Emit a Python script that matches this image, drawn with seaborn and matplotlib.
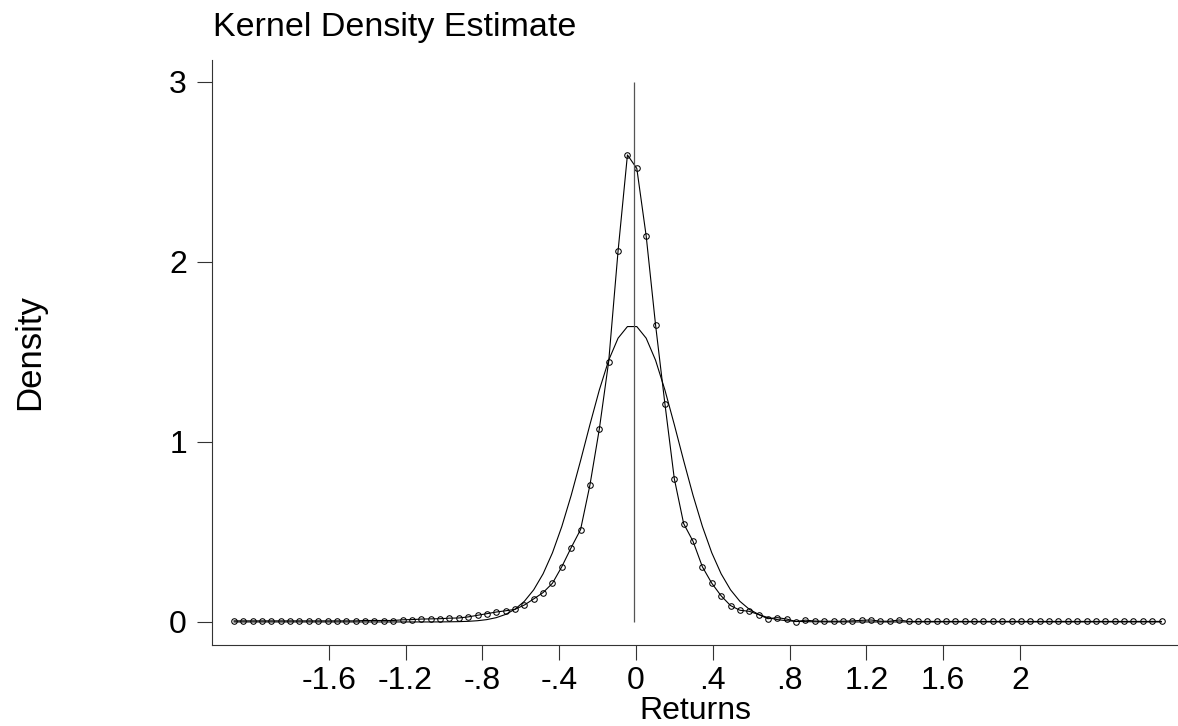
import numpy as np
import pandas as pd
import matplotlib
matplotlib.use("Agg")
import matplotlib.pyplot as plt
import seaborn as sns

# Evaluation grid (returns) used for both density curves
grid_start = -2.094
grid_step = 0.0488
n_points = 100
returns_grid = [round(grid_start + grid_step * i, 4) for i in range(n_points)]

# Kernel density estimate of returns at each grid point
kde_density = (
    [0.006] * 14
    + [0.008, 0.008, 0.008, 0.008,
       0.012, 0.013, 0.016, 0.017, 0.018, 0.021, 0.022, 0.028, 0.037, 0.046,
       0.055, 0.062, 0.070, 0.094, 0.128, 0.163, 0.215, 0.307, 0.413, 0.513,
       0.761, 1.071, 1.446, 2.059, 2.593, 2.518, 2.143, 1.650, 1.211, 0.796,
       0.546, 0.448, 0.306, 0.215, 0.145, 0.091, 0.065, 0.059, 0.041, 0.018,
       0.024, 0.016, 0.002, 0.010, 0.005, 0.004, 0.004, 0.004, 0.006, 0.009,
       0.011, 0.004, 0.004, 0.011]
    + [0.003] * 28
)

# Normal density with the sample mean and standard deviation, same grid
normal_density = (
    [0.0] * 22
    + [0.0003, 0.0008, 0.0017, 0.0034, 0.0068, 0.0130, 0.0238, 0.0418,
       0.0706, 0.1146, 0.1786, 0.2673, 0.3841, 0.5304, 0.7034, 0.8958,
       1.0961, 1.2878, 1.4533, 1.5755, 1.6400,
       1.6400, 1.5755, 1.4533, 1.2878, 1.0961, 0.8958, 0.7034, 0.5304,
       0.3841, 0.2673, 0.1786, 0.1146, 0.0706, 0.0418, 0.0238, 0.0130,
       0.0068, 0.0034, 0.0017, 0.0008, 0.0003]
    + [0.0] * 36
)

mean_return = -0.010

x_ticks = [-1.6, -1.2, -0.8, -0.4, 0, 0.4, 0.8, 1.2, 1.6, 2]
x_tick_labels = ["-1.6", "-1.2", "-.8", "-.4", "0", ".4", ".8", "1.2", "1.6", "2"]
y_ticks = [0, 1, 2, 3]
y_tick_labels = ["0", "1", "2", "3"]

df = pd.DataFrame({"returns": returns_grid,
                   "kde": kde_density,
                   "normal": normal_density})

sns.set_theme(style="ticks")
plt.rcParams["font.family"] = ["Liberation Sans", "DejaVu Sans"]
plt.rcParams["text.color"] = "black"
plt.rcParams["axes.labelcolor"] = "black"
fs = 23

fig = plt.figure(figsize=(11.78, 7.26), dpi=100)
ax = fig.add_axes([212 / 1178, 1 - 645 / 726, 1 - 212 / 1178, (645 - 60) / 726])

sns.lineplot(data=df, x="returns", y="normal", ax=ax, color="black",
             linewidth=0.8, estimator=None, sort=False)
sns.lineplot(data=df, x="returns", y="kde", ax=ax, color="black",
             linewidth=0.8, estimator=None, sort=False,
             marker="o", markersize=4.0, markerfacecolor="none",
             markeredgecolor="black", markeredgewidth=0.75)

ax.vlines(mean_return, 0, 3, color="#555555", linewidth=0.9)

ax.set_xlim(-2.208, 2.823)
ax.set_ylim(-0.128, 3.12)

ax.set_xticks(x_ticks)
ax.set_xticklabels(x_tick_labels, fontsize=fs)
ax.set_yticks(y_ticks)
ax.set_yticklabels(y_tick_labels, fontsize=fs)
ax.tick_params(axis="both", direction="out", length=11, width=0.8,
               color="#333333", labelcolor="black")
ax.tick_params(axis="x", pad=4)
ax.tick_params(axis="y", pad=7)

for side in ["top", "right"]:
    ax.spines[side].set_visible(False)
for side in ["left", "bottom"]:
    ax.spines[side].set_color("#333333")
    ax.spines[side].set_linewidth(0.8)

ax.set_xlabel("Returns", fontsize=fs, labelpad=0, color="black")
ax.set_ylabel("Density", fontsize=25, color="black")
ax.yaxis.set_label_coords(-212 / 966 + 13 / 966, 0.5)
ax.yaxis.label.set_verticalalignment("top")

fig.text(213 / 1178, 1 - 36 / 726, "Kernel Density Estimate",
         fontsize=24.5, ha="left", va="baseline", color="black")

ax.grid(False)
fig.savefig("out.png", dpi=100)
